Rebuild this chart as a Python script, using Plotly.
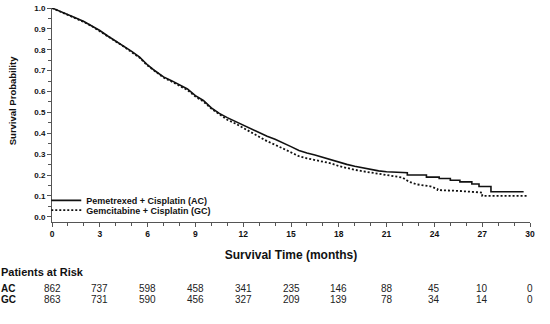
import plotly.graph_objects as go

# ---- data ----
ac_time = [0, 0.5, 1, 1.5, 2, 2.5, 3, 3.5, 4, 4.5, 5, 5.5, 6, 6.5, 7, 7.5, 8, 8.5, 9, 9.5,
           10, 10.5, 11, 11.5, 12, 12.5, 13, 13.5, 14, 14.5, 15, 15.5, 16, 16.5, 17, 17.5,
           18, 18.5, 19, 19.5, 20, 20.5, 21, 21.5, 22, 22.3, 22.3, 23.5, 23.5, 24.3, 24.3,
           25.0, 25.0, 25.6, 25.6, 26.35, 26.35, 26.8, 26.8, 27.55, 27.55, 29.6]
ac_surv = [1.0, 0.985, 0.968, 0.952, 0.935, 0.915, 0.892, 0.866, 0.842, 0.818, 0.792, 0.765,
           0.727, 0.697, 0.670, 0.652, 0.630, 0.612, 0.580, 0.557, 0.522, 0.495, 0.475,
           0.457, 0.440, 0.421, 0.402, 0.386, 0.371, 0.355, 0.336, 0.318, 0.305, 0.296,
           0.284, 0.272, 0.262, 0.251, 0.242, 0.234, 0.226, 0.220, 0.216, 0.214, 0.212,
           0.211, 0.200, 0.200, 0.190, 0.190, 0.183, 0.183, 0.175, 0.175, 0.167, 0.167,
           0.157, 0.157, 0.145, 0.145, 0.120, 0.120]

gc_time = [0, 0.5, 1, 1.5, 2, 2.5, 3, 3.5, 4, 4.5, 5, 5.5, 6, 6.5, 7, 7.5, 8, 8.5, 9, 9.5,
           10, 10.5, 11, 11.5, 12, 12.5, 13, 13.5, 14, 14.5, 15, 15.5, 16, 16.5, 17, 17.5,
           18, 18.5, 19, 19.5, 20, 20.5, 21, 21.5, 22, 22.4, 22.9, 23.4, 23.8, 24.2, 24.2,
           25.5, 26.5, 27.0, 27.0, 29.9]
gc_surv = [1.0, 0.984, 0.966, 0.950, 0.933, 0.913, 0.890, 0.864, 0.840, 0.815, 0.789, 0.762,
           0.724, 0.694, 0.667, 0.648, 0.626, 0.607, 0.576, 0.552, 0.518, 0.490, 0.465,
           0.447, 0.425, 0.404, 0.383, 0.362, 0.345, 0.327, 0.306, 0.290, 0.280, 0.272,
           0.264, 0.256, 0.243, 0.233, 0.225, 0.218, 0.212, 0.207, 0.201, 0.195, 0.188,
           0.168, 0.155, 0.150, 0.145, 0.132, 0.128, 0.124, 0.118, 0.116, 0.100, 0.100]

risk_times = [0, 3, 6, 9, 12, 15, 18, 21, 24, 27, 30]
risk_ac = [862, 737, 598, 458, 341, 235, 146, 88, 45, 10, 0]
risk_gc = [863, 731, 590, 456, 327, 209, 139, 78, 34, 14, 0]
y_ticks = [0.0, 0.1, 0.2, 0.3, 0.4, 0.5, 0.6, 0.7, 0.8, 0.9, 1.0]

ac_name = "Pemetrexed + Cisplatin (AC)"
gc_name = "Gemcitabine + Cisplatin (GC)"

# ---- figure ----
W, H = 550, 324
ML, MR, MT, MB = 52, 20, 4, 102
plot_h = H - MT - MB

def py2paper(py):
    return (H - MB - py) / plot_h

FONT = "Liberation Sans, Arial, sans-serif"

fig = go.Figure()
fig.add_trace(go.Scatter(x=ac_time, y=ac_surv, mode="lines", name=ac_name,
                         line=dict(color="#111111", width=1.6, dash="solid"),
                         cliponaxis=False, legend="legend"))
fig.add_trace(go.Scatter(x=gc_time, y=gc_surv, mode="lines", name=gc_name,
                         line=dict(color="#111111", width=1.8, dash="2px,2px"),
                         cliponaxis=False, legend="legend2"))

legend_common = dict(xanchor="left", yanchor="middle", bgcolor="rgba(0,0,0,0)",
                     borderwidth=0, font=dict(family=FONT, size=9, color="#111111", weight="bold"),
                     itemwidth=30, tracegroupgap=0)
fig.update_layout(
    legend=dict(x=-0.012, y=py2paper(200), **legend_common),
    legend2=dict(x=-0.012, y=py2paper(210), **legend_common),
)

annotations = []
# y axis title
annotations.append(dict(text="Survival Probability", xref="paper", yref="paper",
                        x=(12 - ML) / (W - ML - MR), y=py2paper(99), textangle=-90,
                        showarrow=False, xanchor="center", yanchor="middle",
                        font=dict(family=FONT, size=9.5, color="#111111", weight="bold")))
# risk table
annotations.append(dict(text="Patients at Risk", xref="paper", yref="paper",
                        x=(0 - ML) / (W - ML - MR), y=py2paper(273), showarrow=False,
                        xanchor="left", yanchor="middle", borderpad=0,
                        font=dict(family=FONT, size=11, color="#111111", weight="bold")))
for lab, py in (("AC", 290), ("GC", 301)):
    annotations.append(dict(text=lab, xref="paper", yref="paper",
                            x=(0 - ML) / (W - ML - MR), y=py2paper(py), showarrow=False,
                            xanchor="left", yanchor="middle", borderpad=0,
                            font=dict(family=FONT, size=10, color="#111111", weight="bold")))
for vals, py in ((risk_ac, 290), (risk_gc, 301)):
    for t, v in zip(risk_times, vals):
        annotations.append(dict(text=str(v), xref="x", yref="paper", x=t, y=py2paper(py),
                                showarrow=False, xanchor="center", yanchor="middle", borderpad=0,
                                font=dict(family=FONT, size=10, color="#222222")))

fig.update_layout(
    width=W, height=H,
    margin=dict(l=ML, r=MR, t=MT, b=MB, pad=0),
    paper_bgcolor="white", plot_bgcolor="white",
    showlegend=True,
    annotations=annotations,
    xaxis=dict(range=[0, 30], tickmode="array", tickvals=risk_times,
               ticks="outside", ticklen=4, tickwidth=1, tickcolor="#555555",
               showline=True, linecolor="#555555", linewidth=1,
               showgrid=False, zeroline=False, ticklabeloverflow="allow",
               minor=dict(dtick=1, ticks="outside", ticklen=3, tickcolor="#555555", showgrid=False),
               tickfont=dict(family=FONT, size=8.5, color="#111111", weight="bold"),
               title=dict(text="Survival Time (months)", standoff=12,
                          font=dict(family=FONT, size=12, color="#111111", weight="bold"))),
    yaxis=dict(range=[-0.025, 1.0], tickmode="array",
               tickvals=y_ticks,
               ticktext=[f"{v:.1f}" for v in y_ticks],
               ticks="outside", ticklen=4, tickwidth=1, tickcolor="#555555",
               showline=True, linecolor="#555555", linewidth=1,
               showgrid=False, zeroline=False, ticklabeloverflow="allow",
               minor=dict(tickvals=[v + 0.05 for v in y_ticks[:-1]], ticks="outside",
                          ticklen=3, tickcolor="#555555", showgrid=False),
               tickfont=dict(family=FONT, size=8, color="#111111", weight="bold")),
)

fig.write_html("out.html")
